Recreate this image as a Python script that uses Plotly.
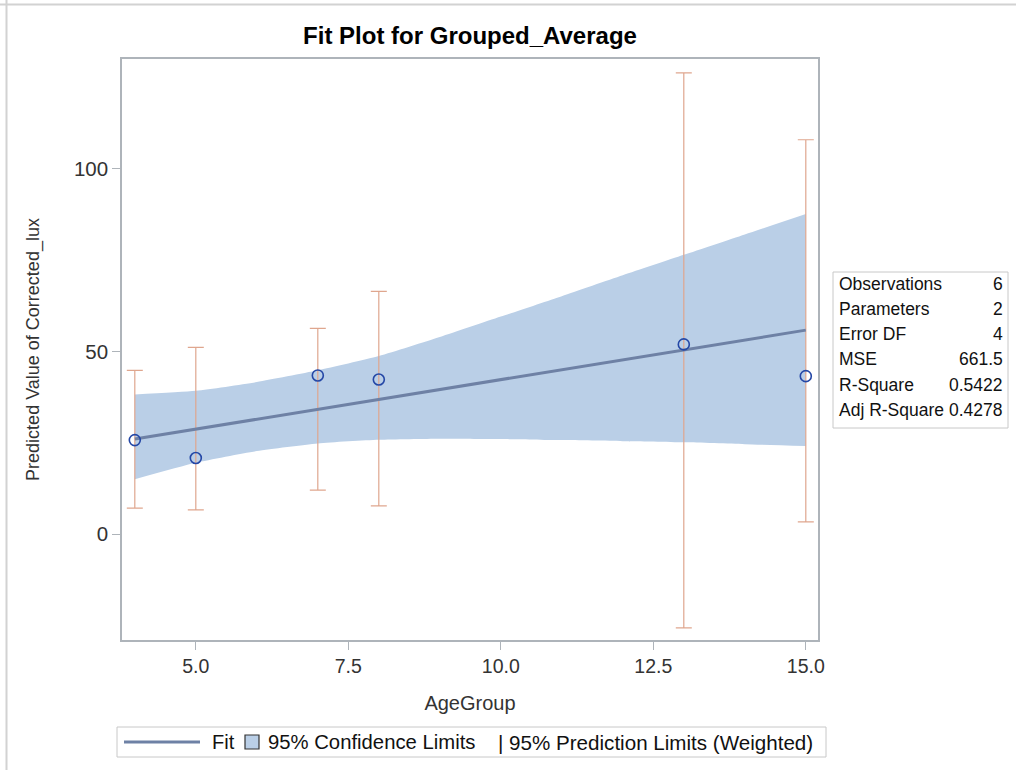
import plotly.graph_objects as go

# Observed group averages
age_group = [4, 5, 7, 8, 13, 15]
grouped_average = [25.7, 20.8, 43.4, 42.3, 51.9, 43.2]

# 95% prediction limits (weighted) at each observation
pred_lower = [7.1, 6.6, 12.0, 7.7, -25.7, 3.3]
pred_upper = [44.8, 51.1, 56.3, 66.4, 126.2, 107.9]

# Fitted regression line end points
fit_x = [4, 15]
fit_y = [26.0, 55.8]

# 95% confidence limits for the mean
band_x = [4, 5, 6, 7, 8, 9, 10, 11, 12, 13, 14, 15]
band_upper = [38.2, 39.2, 41.6, 44.8, 48.7, 53.9, 59.5, 65.1, 70.8, 76.4, 82.0, 87.6]
band_lower = [15.0, 19.5, 22.7, 24.8, 25.8, 26.1, 26.0, 25.7, 25.4, 25.1, 24.6, 24.1]

# Fit statistics panel
stat_names = ["Observations", "Parameters", "Error DF", "MSE", "R-Square", "Adj R-Square"]
stat_values = ["6", "2", "4", "661.5", "0.5422", "0.4278"]

FONT = "Liberation Sans, Arial, sans-serif"
BAND = "#BACFE7"
FIT = "#6E81A5"
PRED = "#DFA68E"
MARK = "#2447A6"
FRAME = "#AEB4BA"

W, H = 1016, 770
L, R, T, B = 122, 818, 59, 640


def px(x):
    return (x - L) / (R - L)


def py(y):
    return (B - y) / (B - T)


fig = go.Figure()

# confidence band: lower edge, then upper edge filled down to it
fig.add_trace(go.Scatter(
    x=band_x, y=band_lower, mode="lines",
    line=dict(width=0, color=BAND, shape="spline", smoothing=0.6),
    hoverinfo="skip", showlegend=False))
fig.add_trace(go.Scatter(
    x=band_x, y=band_upper, mode="lines", fill="tonexty", fillcolor=BAND,
    line=dict(width=0, color=BAND, shape="spline", smoothing=0.6),
    hoverinfo="skip", showlegend=False))

pred_span = [u - l for u, l in zip(pred_upper, pred_lower)]
fig.add_trace(go.Scatter(
    x=age_group, y=pred_lower, mode="markers",
    marker=dict(size=1, opacity=0),
    error_y=dict(type="data", symmetric=False, array=pred_span,
                 arrayminus=[0] * len(pred_span), color=PRED,
                 thickness=1.2, width=8),
    showlegend=False))

fig.add_trace(go.Scatter(
    x=fit_x, y=fit_y, mode="lines",
    line=dict(color=FIT, width=3), showlegend=False))

fig.add_trace(go.Scatter(
    x=age_group, y=grouped_average, mode="markers",
    marker=dict(symbol="circle-open", size=11, color=MARK,
                line=dict(width=1.6, color=MARK)),
    showlegend=False))

shapes = []
annotations = []

# outer page border (top and left)
shapes.append(dict(type="line", xref="paper", yref="paper",
                   x0=px(0), x1=px(W), y0=py(4.5), y1=py(4.5),
                   line=dict(color="#D2D2D2", width=2)))
shapes.append(dict(type="line", xref="paper", yref="paper",
                   x0=px(6.5), x1=px(6.5), y0=py(0), y1=py(H),
                   line=dict(color="#D2D2D2", width=2)))

# statistics box
bx0, bx1, by0, by1 = 833, 1008, 272, 428
shapes.append(dict(type="rect", xref="paper", yref="paper",
                   x0=px(bx0), x1=px(bx1), y0=py(by0), y1=py(by1),
                   line=dict(color="#C8C8C8", width=1), fillcolor="white"))
row_y = [284, 309, 334, 359, 385, 410]
for name, val, ry in zip(stat_names, stat_values, row_y):
    annotations.append(dict(xref="paper", yref="paper", x=px(837), y=py(ry),
                            text=name, showarrow=False, xanchor="left",
                            yanchor="middle",
                            font=dict(family=FONT, size=17.5, color="#111")))
    annotations.append(dict(xref="paper", yref="paper", x=px(1005), y=py(ry),
                            text=val, showarrow=False, xanchor="right",
                            yanchor="middle",
                            font=dict(family=FONT, size=17.5, color="#111")))

# legend box
lx0, lx1, ly0, ly1 = 117, 826, 727, 757
shapes.append(dict(type="rect", xref="paper", yref="paper",
                   x0=px(lx0), x1=px(lx1), y0=py(ly0), y1=py(ly1),
                   line=dict(color="#C8C8C8", width=1), fillcolor="white"))
ly = 742
shapes.append(dict(type="line", xref="paper", yref="paper",
                   x0=px(124), x1=px(200), y0=py(ly), y1=py(ly),
                   line=dict(color=FIT, width=3)))
annotations.append(dict(xref="paper", yref="paper", x=px(210), y=py(ly),
                        text="Fit", showarrow=False, xanchor="left",
                        yanchor="middle",
                        font=dict(family=FONT, size=20, color="#111")))
shapes.append(dict(type="rect", xref="paper", yref="paper",
                   x0=px(245), x1=px(259), y0=py(ly - 7), y1=py(ly + 7),
                   line=dict(color="#333", width=1.2), fillcolor=BAND))
annotations.append(dict(xref="paper", yref="paper", x=px(266), y=py(ly),
                        text="95% Confidence Limits", showarrow=False,
                        xanchor="left", yanchor="middle",
                        font=dict(family=FONT, size=20.3, color="#111")))
annotations.append(dict(xref="paper", yref="paper", x=px(496), y=py(ly),
                        text="| 95% Prediction Limits (Weighted)",
                        showarrow=False, xanchor="left", yanchor="middle",
                        font=dict(family=FONT, size=20.6, color="#111")))

fig.update_layout(
    width=W, height=H,
    margin=dict(l=L, r=W - R, t=T, b=H - B),
    paper_bgcolor="white", plot_bgcolor="white",
    title=dict(text="<b>Fit Plot for Grouped_Average</b>",
               x=(L + R) / 2 / W, xanchor="center",
               y=1 - 36 / H, yanchor="middle",
               font=dict(family=FONT, size=24, color="#000")),
    xaxis=dict(range=[3.79, 15.2], tickvals=[5, 7.5, 10, 12.5, 15],
               tickformat=".1f", showgrid=False, zeroline=False,
               showline=True, mirror=True, linecolor=FRAME, linewidth=1.5,
               ticks="outside", ticklen=8, tickcolor=FRAME,
               tickfont=dict(family=FONT, size=19.5, color="#333"),
               title=dict(text="AgeGroup", standoff=20,
                          font=dict(family=FONT, size=20, color="#333"))),
    yaxis=dict(range=[-29, 130], tickvals=[0, 50, 100],
               showgrid=False, zeroline=False,
               showline=True, mirror=True, linecolor=FRAME, linewidth=1.5,
               ticks="outside", ticklen=8, tickcolor=FRAME,
               tickfont=dict(family=FONT, size=20.5, color="#333"),
               title=dict(text="Predicted Value of Corrected_lux", standoff=30,
                          font=dict(family=FONT, size=18, color="#333"))),
    shapes=shapes, annotations=annotations,
)

fig.write_html("out.html")
